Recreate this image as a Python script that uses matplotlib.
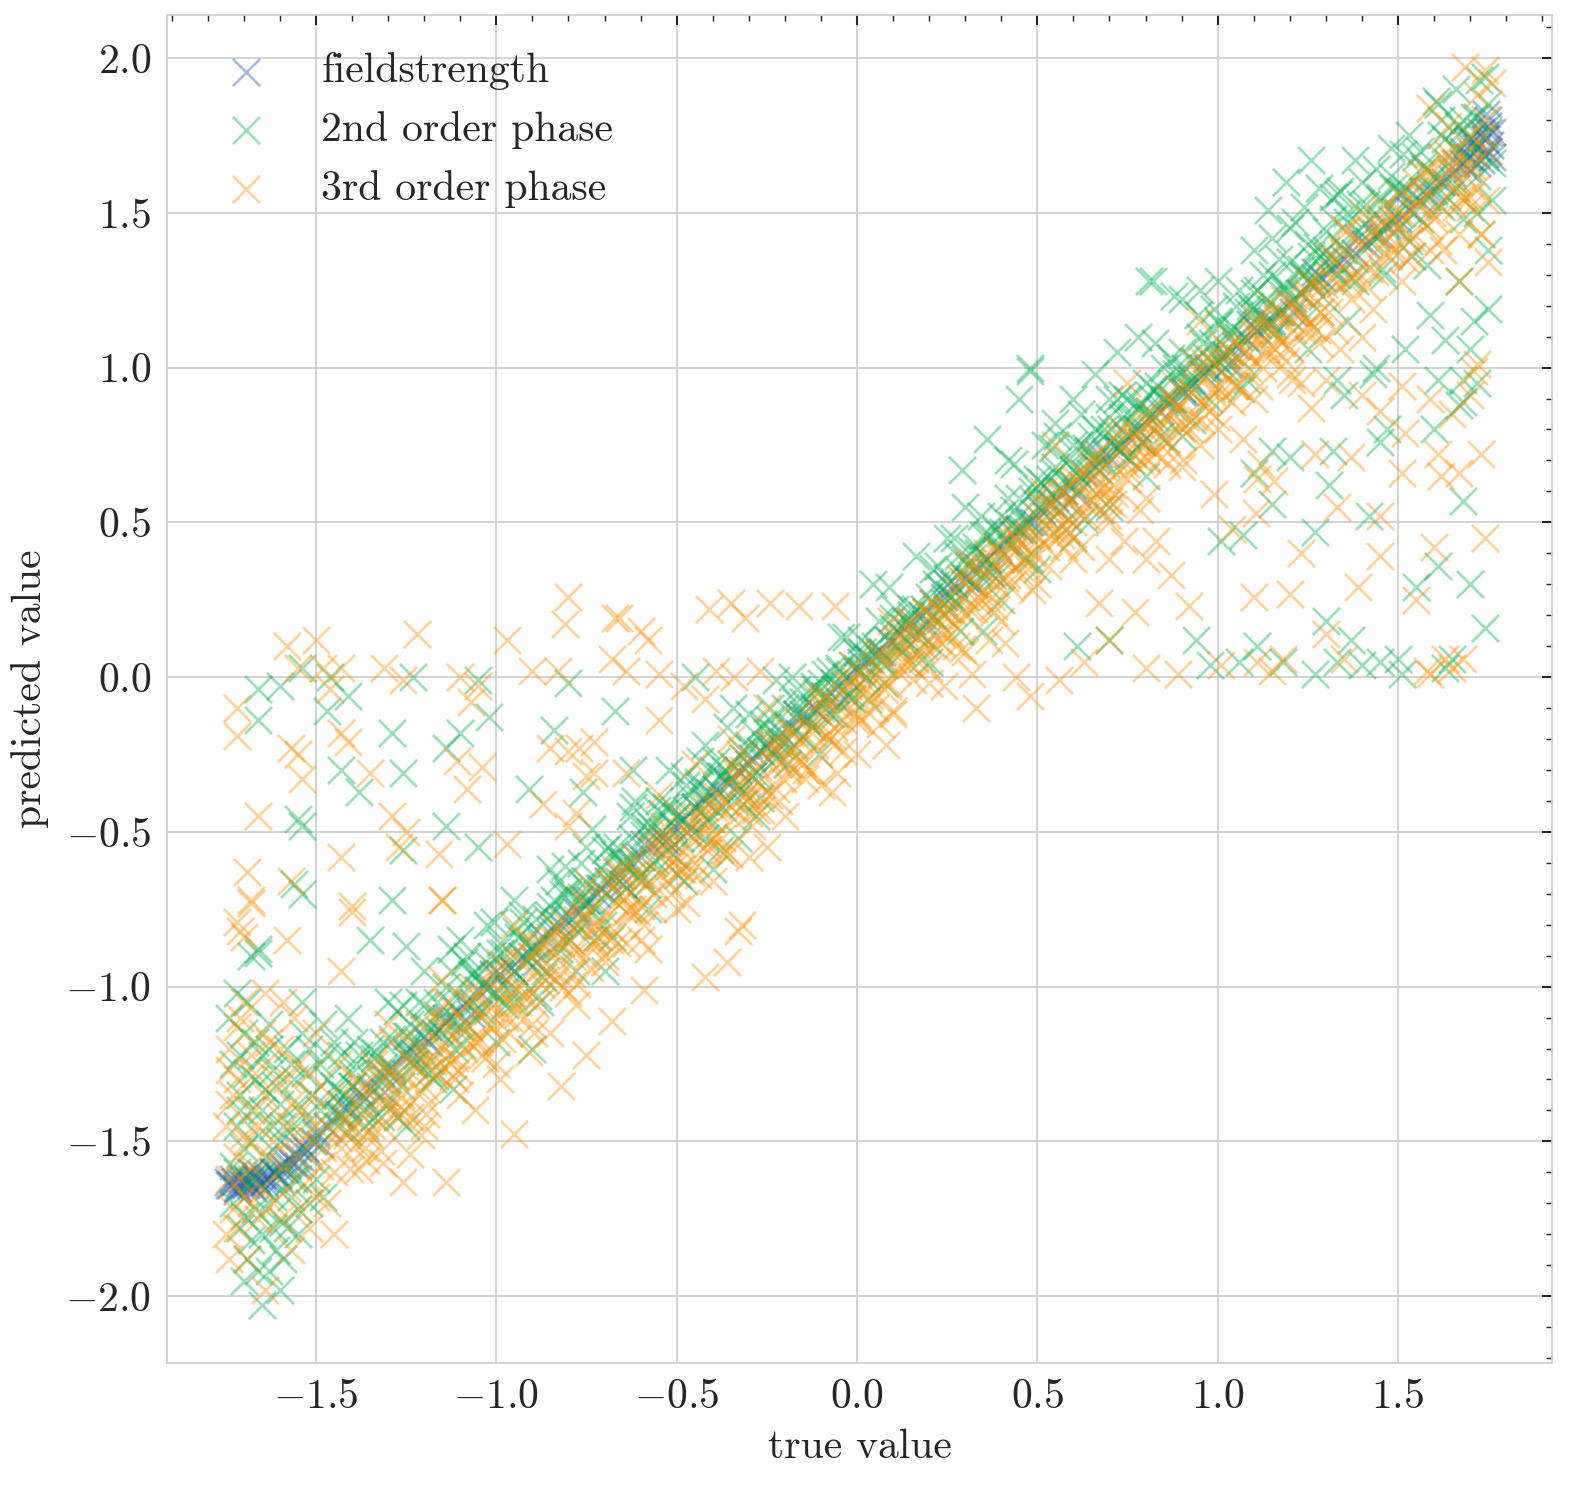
import matplotlib
matplotlib.use("Agg")
import matplotlib.pyplot as plt
from matplotlib.ticker import MultipleLocator
import numpy as np

# ---------------- data ----------------
labels = ["fieldstrength", "2nd order phase", "3rd order phase"]
colors = ["#1f5cb0", "#00b050", "#ff8f00"]

blue_points = [
(-1.74,-1.64),(-1.73,-1.62),(-1.72,-1.65),(-1.71,-1.63),(-1.70,-1.64),(-1.69,-1.62),(-1.68,-1.64),(-1.67,-1.61),(-1.66,-1.63),(-1.65,-1.61),
(-1.64,-1.62),(-1.62,-1.60),(-1.60,-1.59),(-1.58,-1.57),(-1.56,-1.54),(-1.53,-1.52),(-1.50,-1.47),(-1.47,-1.45),(-1.44,-1.41),(-1.41,-1.39),
(-1.38,-1.34),(-1.35,-1.33),(-1.32,-1.28),(-1.29,-1.27),(-1.26,-1.22),(-1.23,-1.21),(-1.20,-1.16),(-1.17,-1.15),(-1.14,-1.11),(-1.11,-1.08),
(-1.08,-1.06),(-1.05,-1.01),(-1.02,-1.00),(-0.99,-0.96),(-0.96,-0.94),(-0.93,-0.90),(-0.90,-0.88),(-0.87,-0.84),(-0.84,-0.82),(-0.81,-0.78),
(-0.78,-0.76),(-0.75,-0.72),(-0.72,-0.70),(-0.69,-0.66),(-0.66,-0.64),(-0.63,-0.60),(-0.60,-0.58),(-0.57,-0.54),(-0.54,-0.52),(-0.51,-0.48),
(-0.48,-0.46),(-0.45,-0.42),(-0.42,-0.40),(-0.39,-0.36),(-0.36,-0.34),(-0.33,-0.30),(-0.30,-0.28),(-0.27,-0.24),(-0.24,-0.22),(-0.21,-0.18),
(-0.18,-0.16),(-0.15,-0.12),(-0.12,-0.10),(-0.09,-0.06),(-0.06,-0.04),(-0.03,0.00),(0.00,0.02),(0.03,0.06),(0.06,0.08),(0.09,0.12),
(0.12,0.14),(0.15,0.18),(0.18,0.20),(0.21,0.24),(0.24,0.26),(0.27,0.30),(0.30,0.32),(0.33,0.36),(0.36,0.38),(0.39,0.42),
(0.42,0.44),(0.45,0.48),(0.48,0.50),(0.51,0.54),(0.54,0.56),(0.57,0.60),(0.60,0.62),(0.63,0.66),(0.66,0.68),(0.69,0.72),
(0.72,0.74),(0.75,0.78),(0.78,0.80),(0.81,0.84),(0.84,0.86),(0.87,0.90),(0.90,0.92),(0.93,0.96),(0.96,0.98),(0.99,1.01),
(1.02,1.04),(1.05,1.07),(1.08,1.09),(1.11,1.12),(1.14,1.15),(1.17,1.18),(1.20,1.21),(1.23,1.24),(1.26,1.27),(1.29,1.29),
(1.32,1.32),(1.35,1.35),(1.38,1.37),(1.41,1.40),(1.44,1.43),(1.47,1.46),(1.50,1.48),(1.53,1.51),(1.56,1.54),(1.59,1.57),
(1.62,1.60),(1.65,1.63),(1.68,1.66),(1.70,1.68),(1.72,1.71),(1.74,1.74),(1.75,1.70),(1.76,1.76),(1.75,1.80),(1.73,1.67),
(-1.72,-1.66),(-1.68,-1.60),(-1.60,-1.62),(-1.55,-1.58),
]
blue_ends = [
(-1.745,-1.63),(-1.735,-1.64),(-1.725,-1.63),(-1.715,-1.65),(-1.705,-1.62),(-1.695,-1.64),(-1.685,-1.63),(-1.675,-1.65),(-1.665,-1.62),(-1.655,-1.64),
(-1.645,-1.63),(-1.635,-1.61),(-1.625,-1.63),(-1.615,-1.60),(-1.605,-1.61),(-1.595,-1.58),(-1.585,-1.59),(-1.575,-1.56),(-1.565,-1.57),(-1.545,-1.55),
(-1.525,-1.53),(-1.505,-1.50),
(1.66,1.66),(1.68,1.70),(1.69,1.64),(1.71,1.73),(1.72,1.66),(1.73,1.76),(1.74,1.69),(1.75,1.78),(1.755,1.72),(1.76,1.68),
(1.745,1.82),(1.70,1.74),
]
blue_b_x = [-1.55,-1.49,-1.43,-1.37,-1.31,-1.25,-1.19,-1.13,-1.07,-1.01,-0.95,-0.89,-0.83,-0.77,-0.71,-0.65,-0.59,-0.53,-0.47,-0.41,
            -0.35,-0.29,-0.23,-0.17,-0.11,-0.05,0.01,0.07,0.13,0.19,0.25,0.31,0.37,0.43,0.49,0.55,0.61,0.67,0.73,0.79,
            0.85,0.91,0.97,1.03,1.09,1.15,1.21,1.27,1.33,1.39,1.45,1.51,1.57,1.63,1.69,1.75]
blue_b_y = [-1.52,-1.51,-1.38,-1.37,-1.34,-1.21,-1.18,-1.10,-1.09,-0.96,-0.95,-0.92,-0.79,-0.76,-0.68,-0.67,-0.54,-0.53,-0.50,-0.37,
            -0.34,-0.26,-0.25,-0.12,-0.11,-0.08,0.05,0.08,0.16,0.17,0.30,0.31,0.34,0.47,0.50,0.58,0.59,0.72,0.73,0.76,
            0.89,0.92,1.00,1.01,1.14,1.15,1.18,1.31,1.34,1.42,1.43,1.56,1.57,1.60,1.73,1.76]

green_lowleft = [
(-1.72,-1.02),(-1.70,-1.15),(-1.68,-0.90),(-1.66,-0.88),(-1.73,-1.25),(-1.71,-1.35),(-1.69,-1.28),(-1.67,-1.18),(-1.65,-1.22),(-1.63,-1.12),
(-1.72,-1.45),(-1.70,-1.52),(-1.68,-1.40),(-1.66,-1.48),(-1.64,-1.33),(-1.62,-1.27),(-1.60,-1.38),(-1.58,-1.20),(-1.56,-1.30),(-1.54,-1.15),
(-1.73,-1.70),(-1.71,-1.78),(-1.69,-1.88),(-1.67,-1.72),(-1.65,-1.80),(-1.63,-1.92),(-1.61,-1.85),(-1.59,-1.76),(-1.57,-1.68),(-1.55,-1.72),
(-1.65,-2.03),(-1.70,-1.95),(-1.60,-1.98),(-1.62,-1.68),(-1.58,-1.58),(-1.56,-1.62),(-1.52,-1.55),(-1.50,-1.48),(-1.53,-1.42),(-1.51,-1.35),
(-1.49,-1.25),(-1.47,-1.30),(-1.45,-1.18),(-1.48,-1.12),(-1.46,-1.40),(-1.44,-1.45),(-1.42,-1.35),(-1.40,-1.28),(-1.43,-1.22),(-1.41,-1.10),
(-1.72,-1.60),(-1.68,-1.62),(-1.64,-1.55),(-1.60,-1.50),(-1.57,-1.45),(-1.54,-1.05),(-1.52,-1.20),(-1.50,-1.62),(-1.48,-1.68),(-1.55,-1.80),
(-1.74,-1.10),(-1.71,-1.22),(-1.69,-1.05),(-1.67,-1.30),(-1.65,-1.40),(-1.63,-1.20),(-1.61,-1.32),(-1.59,-1.45),(-1.57,-1.25),(-1.55,-1.38),
(-1.53,-1.28),(-1.51,-1.50),(-1.49,-1.40),(-1.47,-1.22),(-1.45,-1.32),(-1.43,-1.42),(-1.73,-1.58),(-1.70,-1.74),(-1.67,-1.62),(-1.64,-1.72),
(-1.61,-1.60),(-1.58,-1.78),(-1.55,-1.62),(-1.52,-1.70),(-1.68,-1.82),(-1.62,-1.78),(-1.66,-1.92),(-1.59,-1.88),(-1.71,-1.40),(-1.62,-1.45),
]

green_band_a = [
(-1.400,-1.32),(-1.375,-1.41),(-1.350,-1.20),(-1.325,-1.30),(-1.300,-1.38),(-1.275,-1.08),(-1.250,-1.20),(-1.225,-1.25),(-1.200,-1.06),(-1.175,-1.30),
(-1.150,-1.15),(-1.125,-0.95),(-1.100,-1.03),(-1.075,-1.13),(-1.050,-0.96),(-1.025,-0.80),(-1.000,-1.02),(-0.975,-0.94),(-0.950,-1.05),(-0.925,-0.79),
(-0.900,-0.90),(-0.875,-0.86),(-0.850,-0.74),(-0.825,-0.88),(-0.800,-0.70),(-0.775,-0.82),(-0.750,-0.66),(-0.725,-0.75),(-0.700,-0.56),(-0.675,-0.72),
(-0.650,-0.60),(-0.625,-0.52),(-0.600,-0.66),(-0.575,-0.50),(-0.550,-0.40),(-0.525,-0.56),(-0.500,-0.45),(-0.475,-0.35),(-0.450,-0.50),(-0.425,-0.38),
(-0.400,-0.30),(-0.375,-0.42),(-0.350,-0.28),(-0.325,-0.36),(-0.300,-0.22),(-0.275,-0.32),(-0.250,-0.18),(-0.225,-0.26),(-0.200,-0.10),(-0.175,-0.22),
(-0.150,-0.08),(-0.125,-0.16),(-0.100,-0.02),(-0.075,-0.12),(-0.050,0.02),(-0.025,-0.06),(0.000,0.08),(0.025,0.00),(0.050,0.10),(0.075,0.04),
(0.100,0.16),(0.125,0.08),(0.150,0.20),(0.175,0.14),(0.200,0.26),(0.225,0.18),(0.250,0.32),(0.275,0.24),(0.300,0.38),(0.325,0.30),
(0.350,0.46),(0.375,0.36),(0.400,0.52),(0.425,0.42),(0.450,0.58),(0.475,0.50),(0.500,0.64),(0.525,0.52),(0.550,0.68),(0.575,0.60),
(0.600,0.75),(0.625,0.64),(0.650,0.78),(0.675,0.70),(0.700,0.84),(0.725,0.74),(0.750,0.90),(0.775,0.80),(0.800,0.95),(0.825,0.84),
(0.850,1.00),(0.875,0.90),(0.900,1.05),(0.925,0.94),(0.950,1.10),(0.975,1.00),(1.000,1.15),(1.025,1.04),(1.050,1.20),(1.075,1.10),
(1.100,1.24),(1.125,1.14),(1.150,1.30),(1.175,1.18),(1.200,1.34),(1.225,1.24),(1.250,1.40),(1.275,1.28),(1.300,1.44),
]

green_band_b = [
(-1.390,-1.25),(-1.365,-1.36),(-1.340,-1.42),(-1.315,-1.18),(-1.290,-1.26),(-1.265,-1.32),(-1.240,-1.12),(-1.215,-1.18),(-1.190,-1.28),(-1.165,-1.05),
(-1.140,-1.10),(-1.115,-1.20),(-1.090,-0.92),(-1.065,-1.05),(-1.040,-1.08),(-1.015,-0.90),(-0.990,-0.86),(-0.965,-1.00),(-0.940,-0.84),(-0.915,-0.92),
(-0.890,-0.78),(-0.865,-0.95),(-0.840,-0.80),(-0.815,-0.70),(-0.790,-0.78),(-0.765,-0.60),(-0.740,-0.72),(-0.715,-0.68),(-0.690,-0.64),(-0.665,-0.55),
(-0.640,-0.68),(-0.615,-0.58),(-0.590,-0.48),(-0.565,-0.60),(-0.540,-0.50),(-0.515,-0.42),(-0.490,-0.52),(-0.465,-0.44),(-0.440,-0.34),(-0.415,-0.46),
(-0.390,-0.36),(-0.365,-0.30),(-0.340,-0.40),(-0.315,-0.26),(-0.290,-0.32),(-0.265,-0.24),(-0.240,-0.14),(-0.215,-0.22),(-0.190,-0.16),(-0.165,-0.12),
(-0.140,-0.14),(-0.115,-0.04),(-0.090,-0.10),(-0.065,-0.02),(-0.040,-0.04),(-0.015,0.04),(0.010,0.02),(0.035,0.06),(0.060,0.06),(0.085,0.12),
(0.110,0.10),(0.135,0.18),(0.160,0.14),(0.185,0.22),(0.210,0.20),(0.235,0.28),(0.260,0.26),(0.285,0.34),(0.310,0.32),(0.335,0.40),
(0.360,0.38),(0.385,0.48),(0.410,0.44),(0.435,0.54),(0.460,0.50),(0.485,0.60),(0.510,0.56),(0.535,0.64),(0.560,0.60),(0.585,0.70),
(0.610,0.66),(0.635,0.74),(0.660,0.70),(0.685,0.80),(0.710,0.76),(0.735,0.84),(0.760,0.80),(0.785,0.88),(0.810,0.86),(0.835,0.94),
(0.860,0.90),(0.885,0.98),(0.910,0.94),(0.935,1.02),(0.960,1.00),(0.985,1.08),(1.010,1.04),(1.035,1.12),(1.060,1.10),(1.085,1.18),
(1.110,1.14),(1.135,1.22),(1.160,1.18),(1.185,1.26),(1.210,1.22),(1.235,1.30),(1.260,1.28),(1.285,1.36),(1.310,1.32),
]

green_c_x = [-1.44,-1.41,-1.38,-1.35,-1.32,-1.29,-1.26,-1.23,-1.20,-1.17,-1.14,-1.11,-1.08,-1.05,-1.02,-0.99,-0.96,-0.93,-0.90,-0.87,
             -0.84,-0.81,-0.78,-0.75,-0.72,-0.69,-0.66,-0.63,-0.60,-0.57,-0.54,-0.51,-0.48,-0.45,-0.42,-0.39,-0.36,-0.33,-0.30,-0.27,
             -0.24,-0.21,-0.18,-0.15,-0.12,-0.09,-0.06,-0.03,0.00,0.03,0.06,0.09,0.12,0.15,0.18,0.21,0.24,0.27,0.30,0.33,
             0.36,0.39,0.42,0.45,0.48,0.51,0.54,0.57,0.60,0.63,0.66,0.69,0.72,0.75,0.78,0.81,0.84,0.87,0.90,0.93,
             0.96,0.99,1.02,1.05,1.08,1.11,1.14,1.17,1.20,1.23,1.26,1.29,1.32,1.35,1.38,1.41,1.44,1.47,1.50,1.53,
             1.56,1.59,1.62,1.65,1.68,1.71,1.74]
green_c_y = [-1.34,-1.47,-1.22,-1.32,-1.42,-1.17,-1.06,-1.25,-1.13,-1.29,-1.00,-1.11,-0.90,-1.09,-0.93,-0.89,-1.02,-0.77,-0.87,-0.97,
             -0.72,-0.61,-0.80,-0.68,-0.84,-0.55,-0.66,-0.45,-0.64,-0.48,-0.44,-0.57,-0.32,-0.42,-0.52,-0.27,-0.16,-0.35,-0.23,-0.39,
             -0.10,-0.21,0.00,-0.19,-0.03,0.01,-0.12,0.13,0.03,-0.07,0.18,0.29,0.10,0.22,0.06,0.35,0.24,0.45,0.26,0.42,
             0.46,0.33,0.58,0.48,0.38,0.63,0.74,0.55,0.67,0.51,0.80,0.69,0.90,0.71,0.87,0.91,0.78,1.03,0.93,0.83,
             1.08,1.19,1.00,1.12,0.96,1.25,1.14,1.35,1.16,1.32,1.36,1.23,1.48,1.38,1.28,1.53,1.64,1.45,1.57,1.41,
             1.70,1.59,1.80,1.61,1.77,1.81,1.68]

green_d_x = [-1.425,-1.395,-1.365,-1.335,-1.305,-1.275,-1.245,-1.215,-1.185,-1.155,-1.125,-1.095,-1.065,-1.035,-1.005,-0.975,-0.945,-0.915,-0.885,-0.855,
             -0.825,-0.795,-0.765,-0.735,-0.705,-0.675,-0.645,-0.615,-0.585,-0.555,-0.525,-0.495,-0.465,-0.435,-0.405,-0.375,-0.345,-0.315,-0.285,-0.255,
             -0.225,-0.195,-0.165,-0.135,-0.105,-0.075,-0.045,-0.015,0.015,0.045,0.075,0.105,0.135,0.165,0.195,0.225,0.255,0.285,0.315,0.345,
             0.375,0.405,0.435,0.465,0.495,0.525,0.555,0.585,0.615,0.645,0.675,0.705,0.735,0.765,0.795,0.825,0.855,0.885,0.915,0.945,
             0.975,1.005,1.035,1.065,1.095,1.125,1.155,1.185,1.215,1.245,1.275,1.305,1.335,1.365,1.395,1.425,1.455,1.485,1.515,1.545,
             1.575,1.605,1.635,1.665,1.695,1.725]
green_d_y = [-1.39,-1.18,-1.45,-1.21,-1.30,-1.42,-1.16,-1.05,-1.24,-1.10,-0.88,-1.19,-0.96,-1.00,-0.79,-1.06,-0.82,-0.91,-1.03,-0.77,
             -0.66,-0.85,-0.71,-0.49,-0.80,-0.57,-0.61,-0.40,-0.67,-0.43,-0.52,-0.64,-0.38,-0.27,-0.46,-0.32,-0.10,-0.41,-0.18,-0.22,
             -0.01,-0.28,-0.04,-0.13,-0.25,0.02,0.13,-0.07,0.08,0.30,-0.02,0.22,0.18,0.39,0.12,0.36,0.27,0.15,0.41,0.52,
             0.33,0.47,0.69,0.38,0.61,0.57,0.78,0.51,0.75,0.66,0.54,0.80,0.91,0.72,0.86,1.08,0.77,1.00,0.96,1.17,
             0.90,1.14,1.05,0.93,1.19,1.30,1.11,1.25,1.47,1.16,1.39,1.35,1.56,1.29,1.53,1.44,1.32,1.58,1.69,1.50,
             1.64,1.86,1.55,1.78,1.74,1.93]

green_e_x = [-1.43,-1.40,-1.37,-1.34,-1.31,-1.28,-1.25,-1.22,-1.19,-1.16,-1.13,-1.10,-1.07,-1.04,-1.01,-0.98,-0.95,-0.92,-0.89,-0.86,
             -0.83,-0.80,-0.77,-0.74,-0.71,-0.68,-0.65,-0.62,-0.59,-0.56,-0.53,-0.50,-0.47,-0.44,-0.41,-0.38,-0.35,-0.32,-0.29,-0.26,
             -0.23,-0.20,-0.17,-0.14,-0.11,-0.08,-0.05,-0.02,0.01,0.04,0.07,0.10,0.13,0.16,0.19,0.22,0.25,0.28,0.31,0.34,
             0.37,0.40,0.43,0.46,0.49,0.52,0.55,0.58,0.61,0.64,0.67,0.70,0.73,0.76,0.79,0.82,0.85,0.88,0.91,0.94,
             0.97,1.00,1.03,1.06,1.09,1.12,1.15,1.18,1.21,1.24,1.27,1.30,1.33,1.36,1.39,1.42,1.45,1.48,1.51,1.54,
             1.57,1.60,1.63,1.66,1.69,1.72]
green_e_y = [-1.41,-1.32,-1.40,-1.23,-1.26,-1.29,-1.16,-1.22,-1.13,-1.14,-1.05,-1.13,-0.96,-0.99,-1.02,-0.89,-0.95,-0.86,-0.87,-0.78,
             -0.86,-0.69,-0.72,-0.75,-0.62,-0.68,-0.59,-0.60,-0.51,-0.59,-0.42,-0.45,-0.48,-0.35,-0.41,-0.32,-0.33,-0.24,-0.32,-0.15,
             -0.18,-0.21,-0.08,-0.14,-0.05,-0.06,0.03,-0.05,0.12,0.09,0.06,0.19,0.13,0.22,0.21,0.30,0.22,0.39,0.36,0.33,
             0.46,0.40,0.49,0.48,0.57,0.49,0.66,0.63,0.60,0.73,0.67,0.76,0.75,0.84,0.76,0.93,0.90,0.87,1.00,0.94,
             1.03,1.02,1.11,1.03,1.20,1.17,1.14,1.27,1.21,1.30,1.29,1.38,1.30,1.47,1.44,1.41,1.54,1.48,1.57,1.56,
             1.65,1.57,1.74,1.71,1.68,1.81]

green_spread = [
(-1.30,-1.05),(-1.20,-0.95),(-1.10,-0.85),(-0.95,-0.72),(-0.85,-0.62),(-0.75,-0.55),(-0.62,-0.42),(-0.52,-0.30),(-0.42,-0.22),(-0.30,-0.12),
(-1.25,-1.45),(-1.12,-1.33),(-1.00,-1.18),(-0.88,-1.05),(-0.78,-0.95),(-0.68,-0.84),(-0.58,-0.75),(-0.48,-0.66),(-0.38,-0.56),(-0.28,-0.45),
(-0.40,-0.62),(-0.33,-0.52),(-0.90,-1.20),(-0.70,-0.95),
(0.25,0.45),(0.30,0.55),(0.36,0.77),(0.42,0.70),(0.29,0.67),(0.45,0.90),(0.48,1.00),(0.55,0.82),(0.60,0.90),(0.66,0.98),
(0.72,1.05),(0.78,1.10),(0.81,1.28),(0.90,1.22),(0.95,1.25),(0.70,0.90),(0.52,0.75),(0.62,0.85),
(0.50,0.35),(0.60,0.45),(0.70,0.55),(0.80,0.65),(0.90,0.78),(0.40,0.25),(0.35,0.15),(0.20,0.05),
]

green_upright = [
(1.32,1.55),(1.36,1.50),(1.40,1.60),(1.42,1.48),(1.45,1.55),(1.48,1.62),(1.50,1.45),(1.52,1.58),(1.55,1.68),(1.58,1.55),
(1.60,1.62),(1.62,1.75),(1.64,1.66),(1.66,1.58),(1.68,1.80),(1.70,1.70),(1.72,1.62),(1.74,1.75),(1.75,1.85),(1.76,1.66),
(1.34,1.40),(1.38,1.35),(1.44,1.42),(1.50,1.50),(1.56,1.48),(1.62,1.52),(1.68,1.48),(1.72,1.50),(1.46,1.30),(1.54,1.36),
(1.20,1.45),(1.24,1.52),(1.28,1.58),(1.10,1.38),(1.15,1.42),
(1.74,1.94),(1.66,1.90),(1.61,1.85),(1.26,1.67),(1.19,1.60),(1.14,1.51),(1.06,1.25),(1.00,1.28),(0.88,1.23),(0.82,1.28),
(1.38,1.67),(1.48,1.71),(1.53,1.75),(1.34,1.57),
(1.75,1.38),(1.76,1.54),(1.75,1.19),(1.70,1.06),(1.59,1.17),(1.67,1.28),(1.58,1.33),(1.52,1.06),(1.43,0.98),(1.47,0.80),
(1.68,0.89),(1.71,1.15),(1.63,1.09),(1.61,0.96),(1.33,0.96),(1.25,1.06),(1.36,1.15),
]

green_outliers = [
(0.48,0.99),(1.45,0.76),(1.32,0.73),(1.31,0.62),(1.15,0.73),(1.68,0.57),(1.27,0.47),(1.07,0.46),(1.01,0.44),(1.55,0.29),
(1.70,0.30),(1.61,0.36),(1.74,0.16),(1.30,0.18),(1.37,0.12),(1.27,0.01),(1.40,0.04),(1.51,0.01),(1.65,0.06),(1.11,0.10),
(0.98,0.04),(0.94,0.12),(0.61,0.10),(0.70,0.12),(1.50,0.06),(1.35,0.91),(1.67,0.88),(1.68,0.96),(1.44,1.00),(1.20,0.71),
(1.10,0.66),(1.15,0.56),(1.42,0.52),(1.45,0.05),(1.33,0.05),(1.63,0.03),(1.06,0.05),(1.18,0.05),(1.72,0.95),(1.60,0.80),
(-1.66,-0.04),(-1.66,-0.14),(-1.60,-0.03),(-1.54,0.03),(-1.46,0.00),(-1.47,-0.11),(-1.41,-0.06),(-1.43,-0.30),(-1.38,-0.37),(-1.29,-0.18),
(-1.26,-0.31),(-1.23,0.00),(-1.14,-0.23),(-1.10,-0.18),(-1.05,-0.01),(-1.02,-0.13),(-0.91,-0.36),(-0.84,-0.17),(-0.80,-0.02),(-0.67,-0.11),
(-0.76,-0.37),(-1.54,-0.48),(-1.54,-0.70),(-1.29,-0.72),(-1.14,-0.48),(-1.05,-0.55),(-1.26,-0.56),(-1.35,-0.85),(-1.25,-0.87),(-1.66,-0.89),
(-1.55,-0.46),(-1.56,-0.67),(-0.62,-0.30),(-0.45,0.00),
]

orange_lowleft = [
(-1.74,-1.62),(-1.72,-1.55),(-1.70,-1.48),(-1.68,-1.58),(-1.66,-1.45),(-1.64,-1.35),(-1.62,-1.50),(-1.60,-1.42),(-1.58,-1.30),(-1.56,-1.48),
(-1.54,-1.40),(-1.52,-1.28),(-1.50,-1.45),(-1.48,-1.52),(-1.46,-1.35),(-1.44,-1.25),(-1.42,-1.42),(-1.73,-1.72),(-1.70,-1.68),(-1.66,-1.75),
(-1.62,-1.70),(-1.58,-1.65),(-1.55,-1.72),(-1.52,-1.62),(-1.68,-1.22),(-1.72,-1.30),(-1.65,-1.15),(-1.60,-1.20),(-1.56,-1.10),(-1.50,-1.15),
(-1.70,-1.05),(-1.74,-1.88),(-1.64,-1.98),(-1.75,-1.80),(-1.45,-1.80),(-1.69,-1.88),
(-1.74,-1.38),(-1.74,-1.27),(-1.72,-1.13),(-1.64,-1.02),(-1.58,-0.85),(-1.70,-0.84),(-1.72,-0.79),(-1.68,-0.72),(-1.40,-0.74),(-1.43,-0.95),
(-1.15,-0.72),(-1.32,-1.53),(-1.38,-1.59),(-1.21,-1.48),(-1.26,-1.63),(-1.14,-1.63),
(-1.75,-1.45),(-1.73,-1.35),(-1.71,-1.62),(-1.69,-1.50),(-1.67,-1.40),(-1.65,-1.65),(-1.63,-1.55),(-1.61,-1.30),(-1.59,-1.58),(-1.57,-1.38),
(-1.55,-1.55),(-1.53,-1.48),(-1.51,-1.35),(-1.49,-1.58),(-1.47,-1.45),(-1.45,-1.60),(-1.43,-1.52),(-1.74,-1.20),(-1.71,-1.10),(-1.67,-1.28),
(-1.63,-1.18),(-1.59,-1.05),(-1.55,-1.25),(-1.72,-1.78),(-1.68,-1.70),(-1.60,-1.75),(-1.57,-1.85),(-1.52,-1.78),(-1.50,-1.68),(-1.47,-1.70),
]

orange_band_a = [
(-1.400,-1.45),(-1.375,-1.35),(-1.350,-1.48),(-1.325,-1.38),(-1.300,-1.28),(-1.275,-1.40),(-1.250,-1.30),(-1.225,-1.20),(-1.200,-1.32),(-1.175,-1.22),
(-1.150,-1.12),(-1.125,-1.25),(-1.100,-1.15),(-1.075,-1.05),(-1.050,-1.18),(-1.025,-1.08),(-1.000,-0.98),(-0.975,-1.10),(-0.950,-1.00),(-0.925,-0.92),
(-0.900,-1.02),(-0.875,-0.94),(-0.850,-0.84),(-0.825,-0.96),(-0.800,-0.86),(-0.775,-0.78),(-0.750,-0.90),(-0.725,-0.80),(-0.700,-0.70),(-0.675,-0.82),
(-0.650,-0.72),(-0.625,-0.64),(-0.600,-0.74),(-0.575,-0.66),(-0.550,-0.56),(-0.525,-0.66),(-0.500,-0.58),(-0.475,-0.50),(-0.450,-0.60),(-0.425,-0.50),
(-0.400,-0.42),(-0.375,-0.52),(-0.350,-0.42),(-0.325,-0.34),(-0.300,-0.44),(-0.275,-0.34),(-0.250,-0.26),(-0.225,-0.36),(-0.200,-0.26),(-0.175,-0.18),
(-0.150,-0.28),(-0.125,-0.18),(-0.100,-0.10),(-0.075,-0.20),(-0.050,-0.10),(-0.025,-0.02),(0.000,-0.12),(0.025,-0.02),(0.050,0.04),(0.075,-0.04),
(0.100,0.06),(0.125,0.12),(0.150,0.04),(0.175,0.14),(0.200,0.20),(0.225,0.12),(0.250,0.22),(0.275,0.28),(0.300,0.20),(0.325,0.30),
(0.350,0.36),(0.375,0.26),(0.400,0.38),(0.425,0.44),(0.450,0.34),(0.475,0.46),(0.500,0.52),(0.525,0.42),(0.550,0.54),(0.575,0.60),
(0.600,0.50),(0.625,0.62),(0.650,0.68),(0.675,0.58),(0.700,0.70),(0.725,0.76),(0.750,0.64),(0.775,0.76),(0.800,0.82),(0.825,0.72),
(0.850,0.84),(0.875,0.90),(0.900,0.80),(0.925,0.92),(0.950,0.98),(0.975,0.86),(1.000,1.00),(1.025,1.06),(1.050,0.94),(1.075,1.06),
(1.100,1.12),(1.125,1.00),(1.150,1.12),(1.175,1.18),(1.200,1.06),(1.225,1.18),(1.250,1.24),(1.275,1.12),(1.300,1.24),
]

orange_band_b = [
(-1.390,-1.30),(-1.365,-1.52),(-1.340,-1.25),(-1.315,-1.45),(-1.290,-1.18),(-1.265,-1.35),(-1.240,-1.42),(-1.215,-1.12),(-1.190,-1.38),(-1.165,-1.28),
(-1.140,-1.05),(-1.115,-1.30),(-1.090,-1.20),(-1.065,-1.00),(-1.040,-1.22),(-1.015,-1.12),(-0.990,-0.92),(-0.965,-1.15),(-0.940,-1.05),(-0.915,-0.85),
(-0.890,-1.06),(-0.865,-0.98),(-0.840,-0.80),(-0.815,-1.00),(-0.790,-0.90),(-0.765,-0.72),(-0.740,-0.94),(-0.715,-0.84),(-0.690,-0.66),(-0.665,-0.86),
(-0.640,-0.76),(-0.615,-0.58),(-0.590,-0.80),(-0.565,-0.70),(-0.540,-0.52),(-0.515,-0.70),(-0.490,-0.62),(-0.465,-0.46),(-0.440,-0.64),(-0.415,-0.54),
(-0.390,-0.38),(-0.365,-0.56),(-0.340,-0.46),(-0.315,-0.30),(-0.290,-0.48),(-0.265,-0.38),(-0.240,-0.22),(-0.215,-0.40),(-0.190,-0.30),(-0.165,-0.14),
(-0.140,-0.30),(-0.115,-0.22),(-0.090,-0.06),(-0.065,-0.22),(-0.040,-0.14),(-0.015,0.00),(0.010,-0.14),(0.035,-0.06),(0.060,0.08),(0.085,-0.02),
(0.110,0.02),(0.135,0.16),(0.160,0.06),(0.185,0.10),(0.210,0.24),(0.235,0.14),(0.260,0.18),(0.285,0.32),(0.310,0.22),(0.335,0.26),
(0.360,0.40),(0.385,0.30),(0.410,0.32),(0.435,0.48),(0.460,0.38),(0.485,0.40),(0.510,0.56),(0.535,0.46),(0.560,0.48),(0.585,0.64),
(0.610,0.54),(0.635,0.56),(0.660,0.72),(0.685,0.62),(0.710,0.62),(0.735,0.80),(0.760,0.70),(0.785,0.70),(0.810,0.86),(0.835,0.76),
(0.860,0.76),(0.885,0.94),(0.910,0.84),(0.935,0.84),(0.960,1.02),(0.985,0.92),(1.010,0.92),(1.035,1.10),(1.060,1.00),(1.085,1.00),
(1.110,1.16),(1.135,1.06),(1.160,1.06),(1.185,1.22),(1.210,1.12),(1.235,1.12),(1.260,1.28),(1.285,1.18),(1.310,1.18),
]

orange_c_x = [-1.435,-1.405,-1.375,-1.345,-1.315,-1.285,-1.255,-1.225,-1.195,-1.165,-1.135,-1.105,-1.075,-1.045,-1.015,-0.985,-0.955,-0.925,-0.895,-0.865,
              -0.835,-0.805,-0.775,-0.745,-0.715,-0.685,-0.655,-0.625,-0.595,-0.565,-0.535,-0.505,-0.475,-0.445,-0.415,-0.385,-0.355,-0.325,-0.295,-0.265,
              -0.235,-0.205,-0.175,-0.145,-0.115,-0.085,-0.055,-0.025,0.005,0.035,0.065,0.095,0.125,0.155,0.185,0.215,0.245,0.275,0.305,0.335,
              0.365,0.395,0.425,0.455,0.485,0.515,0.545,0.575,0.605,0.635,0.665,0.695,0.725,0.755,0.785,0.815,0.845,0.875,0.905,0.935,
              0.965,0.995,1.025,1.055,1.085,1.115,1.145,1.175,1.205,1.235,1.265,1.295,1.325,1.355,1.385,1.415,1.445,1.475,1.505,1.535,
              1.565,1.595,1.625,1.655,1.685,1.715,1.745]
orange_c_y = [-1.49,-1.59,-1.32,-1.45,-1.57,-1.29,-1.40,-1.26,-1.41,-1.09,-1.22,-1.27,-1.05,-1.17,-1.07,-1.17,-0.90,-1.03,-1.15,-0.87,
              -0.98,-0.84,-0.99,-0.67,-0.80,-0.85,-0.63,-0.75,-0.65,-0.75,-0.48,-0.61,-0.73,-0.45,-0.56,-0.42,-0.57,-0.25,-0.38,-0.43,
              -0.21,-0.33,-0.23,-0.33,-0.06,-0.19,-0.31,-0.03,-0.14,0.01,-0.15,0.18,0.05,-0.01,0.22,0.10,0.20,0.10,0.37,0.24,
              0.12,0.40,0.29,0.43,0.28,0.60,0.47,0.42,0.64,0.52,0.62,0.52,0.79,0.66,0.54,0.82,0.71,0.85,0.70,1.02,
              0.89,0.84,1.06,0.94,1.04,0.94,1.21,1.08,0.96,1.24,1.13,1.27,1.12,1.44,1.31,1.26,1.48,1.36,1.46,1.36,
              1.63,1.50,1.38,1.66,1.55,1.69,1.54]

orange_d_x = [-1.42,-1.39,-1.36,-1.33,-1.30,-1.27,-1.24,-1.21,-1.18,-1.15,-1.12,-1.09,-1.06,-1.03,-1.00,-0.97,-0.94,-0.91,-0.88,-0.85,
              -0.82,-0.79,-0.76,-0.73,-0.70,-0.67,-0.64,-0.61,-0.58,-0.55,-0.52,-0.49,-0.46,-0.43,-0.40,-0.37,-0.34,-0.31,-0.28,-0.25,
              -0.22,-0.19,-0.16,-0.13,-0.10,-0.07,-0.04,-0.01,0.02,0.05,0.08,0.11,0.14,0.17,0.20,0.23,0.26,0.29,0.32,0.35,
              0.38,0.41,0.44,0.47,0.50,0.53,0.56,0.59,0.62,0.65,0.68,0.71,0.74,0.77,0.80,0.83,0.86,0.89,0.92,0.95,
              0.98,1.01,1.04,1.07,1.10,1.13,1.16,1.19,1.22,1.25,1.28,1.31,1.34,1.37,1.40,1.43,1.46,1.49,1.52,1.55,
              1.58,1.61,1.64,1.67,1.70,1.73]
orange_d_y = [-1.44,-1.51,-1.56,-1.28,-1.37,-1.42,-1.54,-1.20,-1.27,-1.19,-1.29,-1.11,-1.18,-1.23,-0.95,-1.04,-1.09,-1.21,-0.87,-0.94,
              -0.86,-0.96,-0.78,-0.85,-0.90,-0.62,-0.71,-0.76,-0.88,-0.54,-0.61,-0.53,-0.63,-0.45,-0.52,-0.57,-0.29,-0.38,-0.43,-0.55,
              -0.21,-0.28,-0.20,-0.30,-0.12,-0.19,-0.24,0.04,-0.05,-0.10,-0.22,0.12,0.05,0.13,0.03,0.21,0.14,0.09,0.37,0.28,
              0.23,0.11,0.45,0.38,0.46,0.36,0.54,0.47,0.42,0.70,0.61,0.56,0.44,0.78,0.71,0.79,0.69,0.87,0.80,0.75,
              1.03,0.94,0.89,0.77,1.11,1.04,1.12,1.02,1.20,1.13,1.08,1.36,1.27,1.22,1.10,1.44,1.37,1.45,1.35,1.53,
              1.46,1.41,1.69,1.60,1.55,1.43]

orange_e_x = [-1.415,-1.385,-1.355,-1.325,-1.295,-1.265,-1.235,-1.205,-1.175,-1.145,-1.115,-1.085,-1.055,-1.025,-0.995,-0.965,-0.935,-0.905,-0.875,-0.845,
              -0.815,-0.785,-0.755,-0.725,-0.695,-0.665,-0.635,-0.605,-0.575,-0.545,-0.515,-0.485,-0.455,-0.425,-0.395,-0.365,-0.335,-0.305,-0.275,-0.245,
              -0.215,-0.185,-0.155,-0.125,-0.095,-0.065,-0.035,-0.005,0.025,0.055,0.085,0.115,0.145,0.175,0.205,0.235,0.265,0.295,0.325,0.355,
              0.385,0.415,0.445,0.475,0.505,0.535,0.565,0.595,0.625,0.655,0.685,0.715,0.745,0.775,0.805,0.835,0.865,0.895,0.925,0.955,
              0.985,1.015,1.045,1.075,1.105,1.135,1.165,1.195,1.225,1.255,1.285,1.315,1.345,1.375,1.405,1.435,1.465,1.495,1.525,1.555,
              1.585,1.615,1.645,1.675,1.705,1.735]
orange_e_y = [-1.48,-1.38,-1.47,-1.36,-1.27,-1.36,-1.25,-1.34,-1.24,-1.14,-1.23,-1.12,-1.03,-1.12,-1.01,-1.10,-1.00,-0.90,-0.99,-0.88,
              -0.79,-0.88,-0.77,-0.86,-0.76,-0.66,-0.75,-0.64,-0.55,-0.64,-0.53,-0.62,-0.52,-0.42,-0.51,-0.40,-0.31,-0.40,-0.29,-0.38,
              -0.28,-0.18,-0.27,-0.16,-0.07,-0.16,-0.05,-0.14,-0.04,0.07,-0.03,0.09,0.18,0.09,0.20,0.11,0.21,0.31,0.22,0.33,
              0.42,0.33,0.44,0.35,0.45,0.55,0.46,0.57,0.66,0.57,0.68,0.59,0.69,0.79,0.70,0.81,0.90,0.81,0.92,0.83,
              0.93,1.03,0.94,1.05,1.14,1.05,1.16,1.07,1.17,1.27,1.18,1.29,1.38,1.29,1.40,1.31,1.41,1.51,1.42,1.53,
              1.62,1.53,1.64,1.55,1.65,1.75]

orange_spread = [
(-1.20,-1.45),(-1.10,-1.35),(-1.00,-1.25),(-0.90,-1.12),(-0.80,-1.02),(-0.70,-0.92),(-0.60,-0.85),(-0.50,-0.75),(-0.40,-0.66),(-0.30,-0.58),
(-0.20,-0.45),(-0.10,-0.35),(0.00,-0.25),(0.10,-0.12),(0.20,-0.02),(0.30,0.08),(0.40,0.18),(0.50,0.30),(0.60,0.38),(0.70,0.50),
(0.80,0.58),(0.90,0.68),(1.00,0.80),(1.10,0.90),(1.20,0.98),(-0.55,-0.38),(-0.45,-0.28),(-0.35,-0.20),(-0.25,-0.10),(-1.30,-1.12),
(-1.15,-0.98),(-0.95,-0.80),(0.55,0.75),(0.75,0.95),(0.95,1.15),
(-0.95,-1.475),(-0.82,-1.32),(-0.36,-0.92),(-0.42,-0.97),(-0.32,-0.80),(-0.75,-1.22),(-0.85,-1.15),(-0.99,-1.30),(-1.06,-1.40),(-0.68,-1.11),
(-0.59,-1.01),(-0.78,-1.06),(-0.64,-0.86),(-0.33,-0.82),(-0.07,-0.37),
]

orange_upright = [
(1.33,1.35),(1.36,1.28),(1.39,1.40),(1.42,1.32),(1.45,1.45),(1.48,1.38),(1.51,1.50),(1.54,1.42),(1.57,1.55),(1.60,1.48),
(1.63,1.60),(1.66,1.52),(1.69,1.65),(1.72,1.58),(1.75,1.70),(1.74,1.80),(1.70,1.75),(1.66,1.70),(1.62,1.68),(1.58,1.64),
(1.55,1.60),(1.50,1.56),(1.46,1.52),(1.40,1.50),(1.35,1.45),(1.76,1.92),(1.72,1.88),(1.685,1.97),(1.74,1.96),(1.59,1.84),
(1.64,1.78),
(1.73,1.43),(1.75,1.34),(1.70,1.52),(1.67,1.43),(1.59,1.38),(1.51,1.28),(1.43,1.19),(1.34,1.06),(1.30,0.96),(1.72,1.01),
(1.70,0.91),(1.65,0.85),(1.59,0.90),(1.52,0.79),(1.67,1.28),
]

orange_outliers = [
(1.107,0.53),(1.155,0.635),(1.33,0.55),(1.45,0.52),(1.61,0.72),(1.73,0.72),(1.74,0.45),(1.60,0.42),(1.67,0.66),(1.51,0.66),
(1.45,0.39),(1.55,0.25),(1.58,0.02),(1.68,0.06),(1.35,0.06),(1.15,0.02),(1.11,0.05),(0.89,0.01),(0.80,0.03),(0.63,0.05),
(0.56,-0.01),(0.70,0.12),(0.67,0.24),(0.77,0.21),(0.92,0.23),(0.87,0.33),(0.80,0.38),(0.70,0.38),(1.10,0.26),(1.20,0.27),
(1.23,0.40),(1.39,0.29),(1.65,0.03),(1.59,0.01),(1.30,0.14),(1.01,0.04),(1.63,0.06),(1.18,0.06),(1.12,0.69),(1.04,0.48),
(0.99,0.59),(1.27,0.72),(1.37,0.71),(1.62,0.65),(1.71,0.99),(1.51,0.94),(1.45,0.86),(1.40,0.91),(1.23,0.95),(1.26,0.87),
(1.11,0.64),(0.83,0.44),(0.56,0.59),(0.58,0.48),(0.70,0.57),(0.42,0.38),(0.38,0.21),(0.32,0.01),(0.44,0.00),(0.24,-0.03),
(0.33,-0.10),(0.48,-0.06),(0.10,-0.11),
(-1.58,0.10),(-1.50,0.12),(-1.72,-0.10),(-1.72,-0.19),(-1.55,0.03),(-1.48,0.03),(-1.43,0.03),(-1.46,-0.04),(-1.43,-0.18),(-1.41,-0.21),
(-1.57,-0.23),(-1.55,-0.25),(-1.54,-0.33),(-1.66,-0.45),(-1.31,0.03),(-1.26,-0.01),(-1.22,0.14),(-1.35,-0.31),(-1.29,-0.45),(-1.25,-0.50),
(-1.10,0.00),(-1.05,-0.03),(-1.07,-0.08),(-1.11,-0.27),(-1.04,-0.29),(-1.08,-0.36),(-0.97,0.12),(-0.90,0.02),(-0.83,0.02),(-0.80,0.26),
(-0.81,0.17),(-0.85,-0.23),(-0.80,-0.24),(-0.73,-0.21),(-0.75,-0.32),(-0.66,0.19),(-0.68,0.06),(-0.58,0.12),(-0.64,0.02),(-0.55,0.01),
(-1.69,-0.63),(-1.68,-0.73),(-1.71,-0.82),(-1.57,-0.66),(-1.43,-0.58),(-1.40,-0.76),(-1.27,-0.55),(-1.15,-0.72),(-1.16,-0.57),(-0.97,-0.54),
(-0.80,-0.48),(-0.87,-0.41),
(-0.67,0.19),(-0.60,0.15),(-0.41,0.22),(-0.35,0.24),(-0.31,0.19),(-0.24,0.24),(-0.16,0.23),(-0.06,0.23),(-0.39,0.02),(-0.34,0.00),
(-0.27,0.02),(-0.48,-0.03),(-0.55,-0.14),(-0.42,-0.07),(-0.77,-0.23),(-0.73,-0.31),(-0.78,-0.44),(-0.64,-0.31),
]


def collect(pair_lists, xy_lists):
    xs, ys = [], []
    for pl in pair_lists:
        for px, py in pl:
            xs.append(px)
            ys.append(py)
    for lx, ly in xy_lists:
        xs.extend(lx)
        ys.extend(ly)
    return np.array(xs), np.array(ys)


series = [
    collect([blue_points, blue_ends], [(blue_b_x, blue_b_y)]),
    collect([green_lowleft, green_band_a, green_band_b, green_spread, green_upright, green_outliers],
            [(green_c_x, green_c_y), (green_d_x, green_d_y), (green_e_x, green_e_y)]),
    collect([orange_lowleft, orange_band_a, orange_band_b, orange_spread, orange_upright, orange_outliers],
            [(orange_c_x, orange_c_y), (orange_d_x, orange_d_y), (orange_e_x, orange_e_y)]),
]

# ---------------- style ----------------
plt.rcParams["font.family"] = ["cmr10", "DejaVu Serif"]
plt.rcParams["mathtext.fontset"] = "cm"
plt.rcParams["axes.formatter.use_mathtext"] = True
plt.rcParams["axes.unicode_minus"] = True
text_col = "#262626"

fig = plt.figure(figsize=(1578 / 150, 1494 / 150), dpi=150)
ax = fig.add_axes([167 / 1578, (1494 - 1363) / 1494, (1552 - 167) / 1578, (1363 - 15) / 1494])

for (xs, ys), lab, col in zip(series, labels, colors):
    ax.scatter(xs, ys, marker="x", s=170, linewidths=1.3,
               color=col, alpha=0.4, label=lab, zorder=3)

ax.set_xlim(-1.913, 1.927)
ax.set_ylim(-2.216, 2.139)

ax.xaxis.set_major_locator(MultipleLocator(0.5))
ax.xaxis.set_minor_locator(MultipleLocator(0.1))
ax.yaxis.set_major_locator(MultipleLocator(0.5))
ax.yaxis.set_minor_locator(MultipleLocator(0.1))

ax.grid(True, which="major", color="#cccccc", linewidth=0.8, zorder=0)
ax.set_axisbelow(True)
for sp in ax.spines.values():
    sp.set_color("#cccccc")
    sp.set_linewidth(0.8)

ax.tick_params(which="both", direction="in", bottom=False, left=False,
               top=True, right=True, labelbottom=True, labelleft=True,
               colors=text_col, labelsize=20, pad=7.5)
ax.tick_params(which="major", length=5, width=1.0)
ax.tick_params(which="minor", length=2.8, width=0.7)

ax.set_xlabel("true value", fontsize=20, color=text_col, labelpad=6)
ax.set_ylabel("predicted value", fontsize=20, color=text_col, labelpad=8)

leg = ax.legend(loc="upper left", frameon=False, fontsize=20,
                handletextpad=0.8, borderaxespad=0.5)
for t in leg.get_texts():
    t.set_color(text_col)

fig.savefig("out.png", dpi=150)
